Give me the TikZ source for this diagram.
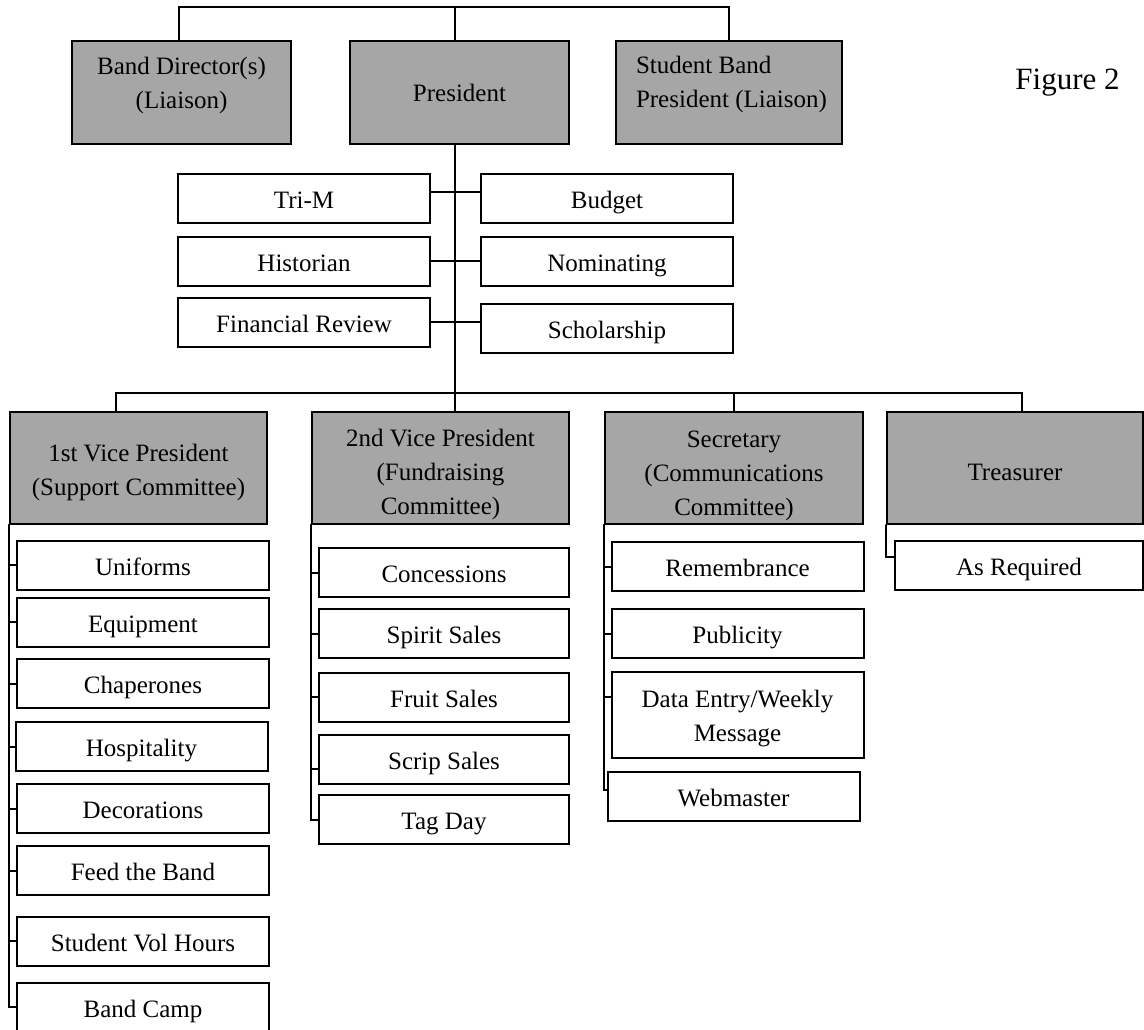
\documentclass[tikz,border=0pt]{standalone}
\usepackage{fontspec}
\setmainfont{Liberation Serif}
\usetikzlibrary{positioning}
\definecolor{boxgray}{rgb}{0.65,0.65,0.65}

\begin{document}
\begin{tikzpicture}[x=0.5pt,y=-0.5pt,line width=1pt,line cap=round,
    every node/.style={font=\fontsize{12.5}{17}\selectfont},
    headbox/.style={draw,fill=boxgray,minimum width=109.5pt,minimum height=51.5pt,inner sep=0pt,align=center},
    vpbox/.style={draw,fill=boxgray,minimum width=128.5pt,minimum height=56pt,inner sep=0pt},
    subbox/.style={draw,fill=white,minimum width=126pt,minimum height=24.5pt,inner sep=0pt,
        text height=10.5pt,text depth=0.5pt}]

    \useasboundingbox (0,0) rectangle (1144,1029);

    \coordinate (trunk) at (455,0);
    \coordinate (topbar) at (0,7);
    \coordinate (bus) at (0,393);

    % top row
    \node[headbox] (bd) at (181.5,92.5) {};
    \node[align=center,inner sep=0pt] (bdtext) at ([yshift=3.5pt]bd.center) {Band Director(s)\\(Liaison)};
    \node[headbox] (pres) at (459.5,92.5) {President};
    \node[headbox,minimum width=113pt] (sbp) at (729,92.5) {};
    \node[align=left,anchor=west,inner sep=0pt] (sbptext) at ([xshift=10pt,yshift=4pt]sbp.west) {Student Band\\President (Liaison)};
    \node[font=\fontsize{15.5}{19}\selectfont] (fig) at (1067.5,83) {Figure 2};

    \draw ([xshift=-1.25pt]bd.north) |- (topbar -| sbp.north) -- (sbp.north);
    \draw (trunk |- topbar) -- (trunk |- pres.north);

    % standing committees
    \node[subbox] (trim) at (304,198) {Tri-M};
    \node[subbox] (hist) at (304,261) {Historian};
    \node[subbox] (finrev) at (304,322) {Financial Review};
    \node[subbox] (budget) at (607,198) {Budget};
    \node[subbox] (nomin) at (607,261) {Nominating};
    \node[subbox] (schol) at (607,328.5) {Scholarship};

    \draw ([yshift=3pt]trim.east) -- ([yshift=3pt]budget.west);
    \draw (hist.east) -- (nomin.west);
    \draw (finrev.east) -- (finrev.east -| schol.west);

    % officers
    \node[vpbox,label={[align=center,yshift=-2pt]center:{1st Vice President\\(Support Committee)}}] (vp1) at (138.5,468) {};
    \node[vpbox,label={[align=center,yshift=-3pt]center:{2nd Vice President\\(Fundraising\\Committee)}}] (vp2) at (440.5,468) {};
    \node[vpbox,minimum width=129pt,label={[align=center,yshift=-4pt]center:{Secretary\\(Communications\\Committee)}}] (vp3) at (734,468) {};
    \node[vpbox,minimum width=128pt,label={[yshift=-2pt]center:Treasurer}] (vp4) at (1015,468) {};

    \draw (trunk |- pres.south) -- (trunk |- vp2.north);
    \draw ([xshift=-11.25pt]vp1.north) |- ([xshift=3.25pt]vp4.north |- bus) -- ([xshift=3.25pt]vp4.north);
    \draw (vp3.north |- bus) -- (vp3.north);

    % support committee
    \node[subbox] (uni) at (143,565) {Uniforms};
    \node[subbox] (equip) at (143,622) {Equipment};
    \node[subbox] (chap) at (143,683.5) {Chaperones};
    \node[subbox] (hosp) at (141.5,746.5) {Hospitality};
    \node[subbox] (deco) at (143,808.5) {Decorations};
    \node[subbox] (feed) at (143,870.5) {Feed the Band};
    \node[subbox] (svh) at (143,941) {Student Vol Hours};
    \node[subbox] (camp) at (143,1007) {Band Camp};
    \foreach \n in {uni,equip,chap,hosp,deco,feed,svh,camp}
        \draw (vp1.south west) |- (\n.west);

    % fundraising committee
    \node[subbox,minimum width=125pt] (conc) at (444,572.5) {Concessions};
    \node[subbox,minimum width=125pt] (spirit) at (444,633.5) {Spirit Sales};
    \node[subbox,minimum width=125pt] (fruit) at (444,697) {Fruit Sales};
    \node[subbox,minimum width=125pt] (scrip) at (444,759) {Scrip Sales};
    \node[subbox,minimum width=125pt] (tag) at (444,819.5) {Tag Day};
    \foreach \n in {conc,spirit,fruit,tag}
        \draw (vp2.south west) |- (\n.west);
    \draw (vp2.south west) |- ([yshift=-5pt]scrip.west);

    % communications committee
    \node[subbox] (remem) at (737.5,566.5) {Remembrance};
    \node[subbox] (publ) at (737.5,633.5) {Publicity};
    \node[draw,fill=white,minimum width=126pt,minimum height=43pt,inner sep=0pt,
        label={[align=center,yshift=-2pt]center:{Data Entry/Weekly\\Message}}] (data) at (737.5,715) {};
    \node[subbox] (web) at (733.5,796) {Webmaster};
    \foreach \n in {remem,publ}
        \draw (vp3.south west) |- (\n.west);
    \draw (vp3.south west) |- ([yshift=9pt]data.west);
    \draw (vp3.south west) |- ([yshift=3pt]web.west);

    % treasurer
    \node[subbox,minimum width=124pt] (asreq) at (1019,565) {As Required};
    \draw (vp4.south west) |- ([yshift=4pt]asreq.west);
\end{tikzpicture}
\end{document}
